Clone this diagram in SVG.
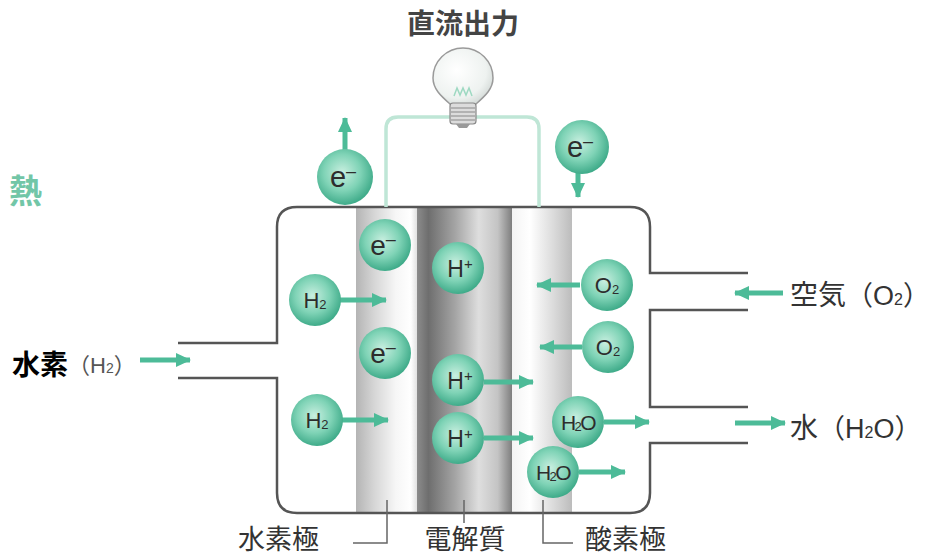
<svg xmlns="http://www.w3.org/2000/svg" width="941" height="558" viewBox="0 0 941 558">
  <defs>
    <radialGradient id="ball" cx="0.45" cy="0.42" r="0.6">
      <stop offset="0" stop-color="#c9efe0"/>
      <stop offset="0.55" stop-color="#7fd3b6"/>
      <stop offset="1" stop-color="#3aa886"/>
    </radialGradient>
    <radialGradient id="globe" cx="0.4" cy="0.4" r="0.7">
      <stop offset="0" stop-color="#ffffff"/>
      <stop offset="0.7" stop-color="#eef2f0"/>
      <stop offset="1" stop-color="#cfd6d3"/>
    </radialGradient>
    <linearGradient id="anode" x1="0" x2="1" y1="0" y2="0">
      <stop offset="0" stop-color="#b4b4b4"/>
      <stop offset="0.3" stop-color="#d6d6d6"/>
      <stop offset="0.65" stop-color="#f6f6f6"/>
      <stop offset="0.9" stop-color="#ffffff"/>
      <stop offset="1" stop-color="#e2e2e2"/>
    </linearGradient>
    <linearGradient id="electrolyte" x1="0" x2="1" y1="0" y2="0">
      <stop offset="0" stop-color="#8c8c8c"/>
      <stop offset="0.12" stop-color="#6e6e6e"/>
      <stop offset="0.4" stop-color="#a4a4a4"/>
      <stop offset="0.65" stop-color="#dedede"/>
      <stop offset="0.85" stop-color="#c4c4c4"/>
      <stop offset="1" stop-color="#7e7e7e"/>
    </linearGradient>
    <linearGradient id="cathode" x1="0" x2="1" y1="0" y2="0">
      <stop offset="0" stop-color="#f4f4f4"/>
      <stop offset="0.3" stop-color="#ffffff"/>
      <stop offset="0.7" stop-color="#dadada"/>
      <stop offset="1" stop-color="#bcbcbc"/>
    </linearGradient>
    <marker id="head" markerUnits="userSpaceOnUse" markerWidth="16" markerHeight="16" refX="14" refY="8" orient="auto">
      <path d="M0,1 L15,8 L0,15 Z" fill="#4dbb98"/>
    </marker>
    <style>
      .wall { fill: none; stroke: #555; stroke-width: 2.5; }
      .lead { fill: none; stroke: #666; stroke-width: 1.5; }
      .flow { fill: none; stroke: #4dbb98; stroke-width: 5; marker-end: url(#head); }
      .ball { fill: url(#ball); }
      .in { font-family: "Liberation Sans", Arial, sans-serif; fill: #2d2d2d; text-anchor: middle; }
      .jp { font-family: "Noto Sans CJK JP", "Noto Sans", sans-serif; fill: #333; }
      .sub { font-size: 13px; }
    </style>
  </defs>

  <rect width="941" height="558" fill="#ffffff"/>

  <!-- cell layers -->
  <g id="layers">
    <rect x="356" y="207" width="61" height="306" fill="url(#anode)"/>
    <rect x="417" y="207" width="95" height="306" fill="url(#electrolyte)"/>
    <rect x="512" y="207" width="60" height="306" fill="url(#cathode)"/>
  </g>

  <!-- cell housing with gas ports -->
  <g id="housing">
    <path class="wall" d="M178,343 H277 V227 Q277,207 297,207 H630 Q650,207 650,227 V273 H748"/>
    <path class="wall" d="M748,310 H650 V407 H748"/>
    <path class="wall" d="M748,443 H650 V493 Q650,513 630,513 H297 Q277,513 277,493 V378 H178"/>
  </g>

  <!-- external circuit and lamp -->
  <g id="lamp">
    <path d="M386,207 V129 Q386,117 398,117 H527 Q539,117 539,129 V207" fill="none" stroke="#bfe6d6" stroke-width="3.5"/>
    <path d="M450,104 C441,96 433,89 433,78 A30,30 0 1 1 493,78 C493,89 485,96 476,104 Z" fill="url(#globe)" stroke="#9a9a9a" stroke-width="1.5"/>
    <path d="M454,96 L457,88 L460,95 L463,88 L466,95 L469,88 L472,96" fill="none" stroke="#9ed9c2" stroke-width="1.5"/>
    <rect x="450" y="103" width="26" height="21" rx="3" fill="#dcdcdc" stroke="#888" stroke-width="1.2"/>
    <path d="M451,108 H475 M451,112 H475 M451,116 H475 M451,120 H475" stroke="#888" stroke-width="1.2"/>
    <path d="M456,124 H470 L467,128 H459 Z" fill="#999"/>
  </g>

  <!-- particle flows -->
  <g id="connectors">
    <path class="flow" d="M345,150 V118"/>
    <path class="flow" d="M578,172 V197"/>
    <path class="flow" d="M340,300 H386"/>
    <path class="flow" d="M342,420 H388"/>
    <path class="flow" d="M580,285 H537"/>
    <path class="flow" d="M582,347 H540"/>
    <path class="flow" d="M484,382 H533"/>
    <path class="flow" d="M484,438 H533"/>
    <path class="flow" d="M604,422 H649"/>
    <path class="flow" d="M579,472 H625"/>
    <path class="flow" d="M140,360 H190"/>
    <path class="flow" d="M783,293 H735"/>
    <path class="flow" d="M735,423 H785"/>
  </g>

  <!-- particles -->
  <g id="e-out">
    <circle class="ball" cx="345" cy="177" r="28"/>
    <text class="in" x="343" y="187" font-size="29">e<tspan font-size="18" dy="-10">–</tspan></text>
  </g>
  <g id="e-in">
    <circle class="ball" cx="582" cy="147" r="27"/>
    <text class="in" x="580" y="157" font-size="29">e<tspan font-size="18" dy="-10">–</tspan></text>
  </g>
  <g id="e-1">
    <circle class="ball" cx="385" cy="245" r="26"/>
    <text class="in" x="383" y="255" font-size="28">e<tspan font-size="18" dy="-10">–</tspan></text>
  </g>
  <g id="e-2">
    <circle class="ball" cx="385" cy="353" r="26"/>
    <text class="in" x="383" y="363" font-size="28">e<tspan font-size="18" dy="-10">–</tspan></text>
  </g>
  <g id="hplus-1">
    <circle class="ball" cx="458" cy="268" r="26"/>
    <text class="in" x="460" y="277" font-size="23">H<tspan font-size="15" dy="-8">+</tspan></text>
  </g>
  <g id="hplus-2">
    <circle class="ball" cx="458" cy="380" r="26"/>
    <text class="in" x="460" y="389" font-size="23">H<tspan font-size="15" dy="-8">+</tspan></text>
  </g>
  <g id="hplus-3">
    <circle class="ball" cx="458" cy="438" r="26"/>
    <text class="in" x="460" y="447" font-size="23">H<tspan font-size="15" dy="-8">+</tspan></text>
  </g>
  <g id="h2-1">
    <circle class="ball" cx="315" cy="300" r="26"/>
    <text class="in" x="315" y="308" font-size="22">H<tspan class="sub" dy="1">2</tspan></text>
  </g>
  <g id="h2-2">
    <circle class="ball" cx="317" cy="420" r="26"/>
    <text class="in" x="317" y="428" font-size="22">H<tspan class="sub" dy="1">2</tspan></text>
  </g>
  <g id="o2-1">
    <circle class="ball" cx="607" cy="285" r="26"/>
    <text class="in" x="607" y="293" font-size="22">O<tspan class="sub" dy="1">2</tspan></text>
  </g>
  <g id="o2-2">
    <circle class="ball" cx="608" cy="347" r="26"/>
    <text class="in" x="608" y="355" font-size="22">O<tspan class="sub" dy="1">2</tspan></text>
  </g>
  <g id="h2o-1">
    <circle class="ball" cx="578" cy="422" r="26"/>
    <text class="in" x="578" y="430" font-size="21" letter-spacing="-1.5">H<tspan class="sub" dy="1">2</tspan><tspan dy="-1">O</tspan></text>
  </g>
  <g id="h2o-2">
    <circle class="ball" cx="553" cy="472" r="26"/>
    <text class="in" x="553" y="480" font-size="21" letter-spacing="-1.5">H<tspan class="sub" dy="1">2</tspan><tspan dy="-1">O</tspan></text>
  </g>

  <!-- labels -->
  <g id="label-output">
    <text class="jp" x="463" y="34" font-size="28" text-anchor="middle" font-weight="bold" style="fill:#444">直流出力</text>
  </g>
  <g id="label-heat">
    <text class="jp" x="9" y="203" font-size="33" font-weight="bold" style="fill:#72c6a7">熱</text>
  </g>
  <g id="label-hydrogen">
    <text x="12" y="375" font-size="28" font-family="'Noto Sans CJK JP', sans-serif" font-weight="bold" fill="#000">水素<tspan font-family="'Liberation Sans', 'Noto Sans CJK JP', sans-serif" font-weight="normal" font-size="22" fill="#555" dy="-2">（H<tspan font-size="14">2</tspan>）</tspan></text>
  </g>
  <g id="label-air">
    <text class="jp" x="790" y="305" font-size="28">空気<tspan font-family="'Liberation Sans', 'Noto Sans CJK JP', sans-serif" font-size="27">（O<tspan font-size="16">2</tspan>）</tspan></text>
  </g>
  <g id="label-water">
    <text class="jp" x="790" y="438" font-size="28">水<tspan font-family="'Liberation Sans', 'Noto Sans CJK JP', sans-serif" font-size="27">（H<tspan font-size="16">2</tspan>O）</tspan></text>
  </g>

  <!-- part callouts -->
  <g id="callouts">
    <path class="lead" d="M387,500 V543 H353"/>
    <path class="lead" d="M464,500 V523"/>
    <path class="lead" d="M543,500 V543 H573"/>
  </g>
  <g id="label-anode">
    <text class="jp" x="238" y="549" font-size="27">水素極</text>
  </g>
  <g id="label-electrolyte">
    <text class="jp" x="465" y="549" font-size="27" text-anchor="middle">電解質</text>
  </g>
  <g id="label-cathode">
    <text class="jp" x="585" y="549" font-size="27">酸素極</text>
  </g>
</svg>
